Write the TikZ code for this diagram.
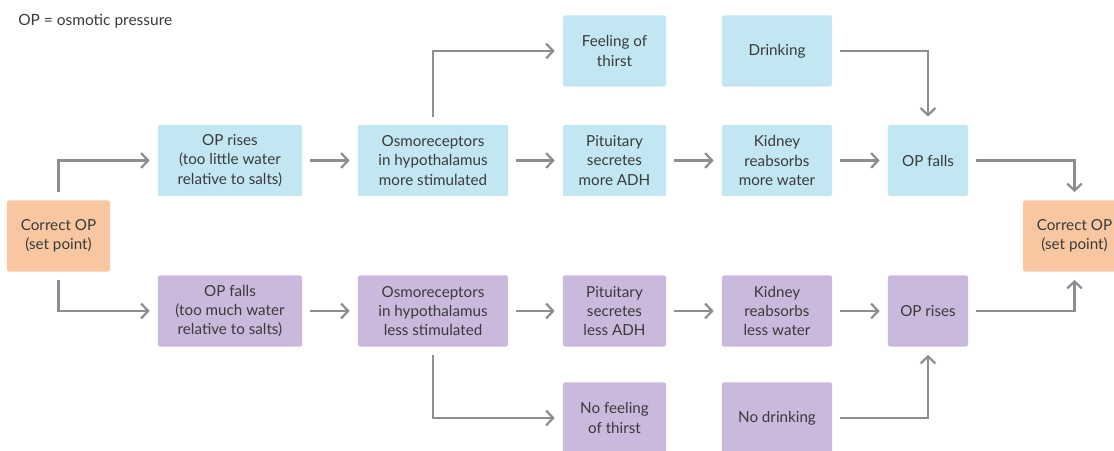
\documentclass[tikz,border=0pt]{standalone}
\usepackage{fontspec}
\setmainfont{Lato}
\usetikzlibrary{arrows.meta}
\definecolor{risebox}{HTML}{C3E6F3}
\definecolor{fallbox}{HTML}{CAB9DC}
\definecolor{setbox}{HTML}{F8C6A0}
\definecolor{arrowgray}{HTML}{8E8E8E}
\definecolor{labelgray}{HTML}{3A3A3A}
\begin{document}
\begin{tikzpicture}[x=0.025cm,y=-0.025cm,
    box/.style={rectangle,rounded corners=1.5pt,minimum height=1.78cm,inner sep=0pt,
        align=center,text=labelgray,font=\fontsize{10.8}{13.6}\selectfont},
    rise/.style={box,fill=risebox},
    fall/.style={box,fill=fallbox},
    setpt/.style={box,fill=setbox,minimum width=2.575cm},
    flow/.style={draw=arrowgray,line width=1.6pt,-{Straight Barb[length=5pt,width=10.5pt]},
        shorten <=0.2cm,shorten >=0.2cm}]
    \useasboundingbox (0,0) rectangle (1114,451);
    \node[anchor=base west,inner sep=0pt,text=labelgray,font=\fontsize{11}{13}\selectfont] (key) at (18,26) {OP = osmotic pressure};
    % set point on both sides
    \node[setpt] (setl) at (58.5,236) {Correct OP\\(set point)};
    \node[setpt] (setr) at (1074.5,236) {Correct OP\\(set point)};
    % upper row: OP too high
    \node[rise,minimum width=3.6cm] (oprise) at (230,160.5) {OP rises\\(too little water\\relative to salts)};
    \node[rise,minimum width=3.75cm] (osmohi) at (433,160.5) {Osmoreceptors\\in hypothalamus\\more stimulated};
    \node[rise,minimum width=2.575cm] (thirst) at (614.5,51) {Feeling of\\thirst};
    \node[rise,minimum width=2.575cm] (adhhi) at (614.5,160.5) {Pituitary\\secretes\\more ADH};
    \node[rise,minimum width=2.75cm] (drink) at (777,51) {Drinking};
    \node[rise,minimum width=2.75cm] (kidhi) at (777,160.5) {Kidney\\reabsorbs\\more water};
    \node[rise,minimum width=2cm] (opfall) at (928,160.5) {OP falls};
    % lower row: OP too low
    \node[fall,minimum width=3.6cm] (opfall2) at (230,311) {OP falls\\(too much water\\relative to salts)};
    \node[fall,minimum width=3.75cm] (osmolo) at (433,311) {Osmoreceptors\\in hypothalamus\\less stimulated};
    \node[fall,minimum width=2.575cm] (nothirst) at (614.5,418) {No feeling\\of thirst};
    \node[fall,minimum width=2.575cm] (adhlo) at (614.5,311) {Pituitary\\secretes\\less ADH};
    \node[fall,minimum width=2.75cm] (nodrink) at (777,418) {No drinking};
    \node[fall,minimum width=2.75cm] (kidlo) at (777,311) {Kidney\\reabsorbs\\less water};
    \node[fall,minimum width=2cm] (oprise2) at (928,311) {OP rises};
    % arrows
    \draw[flow] (setl.north) |- (oprise.west);
    \draw[flow] (setl.south) |- (opfall2.west);
    \draw[flow] (oprise) -- (osmohi);
    \draw[flow] (osmohi) -- (adhhi);
    \draw[flow] (adhhi) -- (kidhi);
    \draw[flow] (kidhi) -- (opfall);
    \draw[flow] (osmohi.north) |- (thirst.west);
    \draw[flow] (drink.east) -| (opfall.north);
    \draw[flow] (opfall.east) -| (setr.north);
    \draw[flow] (opfall2) -- (osmolo);
    \draw[flow] (osmolo) -- (adhlo);
    \draw[flow] (adhlo) -- (kidlo);
    \draw[flow] (kidlo) -- (oprise2);
    \draw[flow] (osmolo.south) |- (nothirst.west);
    \draw[flow] (nodrink.east) -| (oprise2.south);
    \draw[flow] (oprise2.east) -| (setr.south);
\end{tikzpicture}
\end{document}
